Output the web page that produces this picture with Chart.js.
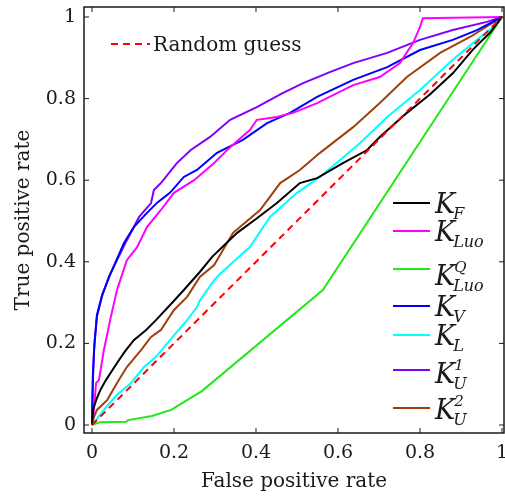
<!DOCTYPE html>
<html lang="en">
<head>
<meta charset="UTF-8">
<title>ROC curves</title>
<script src="https://cdn.jsdelivr.net/npm/chart.js"></script>
<style>
  html, body { margin: 0; padding: 0; background: #fff; }
</style>
</head>
<body>
<canvas id="roc" width="505" height="497"></canvas>
<script>
// ROC points [false positive rate, true positive rate]
var kF = [[0,0],[0.003,0.04],[0.012,0.066],[0.02,0.085],[0.034,0.11],[0.061,0.152],[0.08,0.18],[0.102,0.208],[0.132,0.233],[0.156,0.257],[0.195,0.299],[0.224,0.331],[0.263,0.375],[0.293,0.412],[0.354,0.471],[0.4,0.505],[0.451,0.544],[0.507,0.593],[0.549,0.605],[0.612,0.642],[0.671,0.674],[0.702,0.706],[0.768,0.765],[0.824,0.81],[0.88,0.862],[0.929,0.92],[0.971,0.962],[1,1]];
var kLuo = [[0,0],[0.005,0.04],[0.01,0.103],[0.017,0.11],[0.029,0.184],[0.046,0.265],[0.061,0.331],[0.085,0.404],[0.11,0.436],[0.134,0.485],[0.168,0.527],[0.2,0.569],[0.249,0.6],[0.298,0.642],[0.337,0.681],[0.385,0.723],[0.402,0.748],[0.451,0.755],[0.49,0.765],[0.549,0.789],[0.637,0.833],[0.702,0.853],[0.751,0.887],[0.783,0.936],[0.8,0.975],[0.807,0.997],[1,1]];
var kLuoQ = [[0,0],[0.005,0.002],[0.02,0.007],[0.083,0.008],[0.088,0.012],[0.146,0.022],[0.193,0.037],[0.268,0.083],[0.563,0.331],[1,1]];
var kV = [[0,0],[0.002,0.12],[0.006,0.2],[0.012,0.27],[0.025,0.32],[0.046,0.373],[0.078,0.446],[0.102,0.485],[0.134,0.52],[0.159,0.545],[0.19,0.569],[0.224,0.608],[0.256,0.625],[0.305,0.667],[0.368,0.699],[0.427,0.74],[0.483,0.765],[0.549,0.804],[0.637,0.846],[0.72,0.877],[0.8,0.919],[0.88,0.944],[0.939,0.968],[1,1]];
var kL = [[0,0],[0.01,0.012],[0.029,0.037],[0.061,0.074],[0.095,0.103],[0.127,0.142],[0.156,0.167],[0.176,0.191],[0.207,0.228],[0.232,0.257],[0.256,0.289],[0.263,0.305],[0.298,0.355],[0.312,0.37],[0.385,0.436],[0.434,0.51],[0.5,0.569],[0.556,0.608],[0.6,0.645],[0.654,0.691],[0.72,0.755],[0.8,0.821],[0.88,0.895],[0.929,0.936],[0.978,0.975],[1,1]];
var kU1 = [[0,0],[0.002,0.1],[0.005,0.184],[0.012,0.265],[0.024,0.314],[0.041,0.363],[0.061,0.404],[0.085,0.453],[0.115,0.51],[0.144,0.544],[0.151,0.576],[0.168,0.593],[0.207,0.642],[0.241,0.674],[0.288,0.706],[0.337,0.748],[0.402,0.779],[0.466,0.814],[0.515,0.838],[0.58,0.865],[0.637,0.887],[0.72,0.912],[0.8,0.944],[0.88,0.968],[0.963,0.988],[1,1]];
var kU2 = [[0,0],[0.005,0.02],[0.012,0.037],[0.037,0.061],[0.061,0.103],[0.085,0.142],[0.12,0.184],[0.144,0.216],[0.168,0.233],[0.2,0.282],[0.232,0.314],[0.263,0.363],[0.298,0.392],[0.344,0.471],[0.41,0.527],[0.459,0.593],[0.507,0.625],[0.556,0.667],[0.637,0.73],[0.702,0.789],[0.768,0.853],[0.849,0.912],[0.922,0.951],[1,1]];
var randomGuess = [[0,0],[1,1]];

var seriesData = [kF, kLuo, kLuoQ, kV, kL, kU1, kU2];
var seriesColors = ['#000000', '#ff00ff', '#22e81a', '#0000ff', '#00ffff', '#8000ff', '#a0400c'];
var legendSub = ['F', 'Luo', 'Luo', 'V', 'L', 'U', 'U'];
var legendSup = ['', '', 'Q', '', '', '1', '2'];

var tickVals = [0, 0.2, 0.4, 0.6, 0.8, 1];
var tickLabels = ['0', '0.2', '0.4', '0.6', '0.8', '1'];

var serif = '"DejaVu Serif", serif';

function toXY(arr) {
    return arr.map(function (p) { return { x: p[0], y: p[1] }; });
}

var datasets = [{
    label: 'Random guess',
    data: toXY(randomGuess),
    borderColor: '#ff0000',
    borderDash: [7, 5],
    borderWidth: 2
}];
seriesData.forEach(function (d, i) {
    datasets.push({
        label: 'K_' + legendSub[i] + (legendSup[i] ? '^' + legendSup[i] : ''),
        data: toXY(d),
        borderColor: seriesColors[i],
        borderWidth: 2
    });
});

// inward ticks, box frame and the two legends
var framePlugin = {
    id: 'frame',
    afterDraw: function (chart) {
        var ctx = chart.ctx, a = chart.chartArea;
        var xs = chart.scales.x, ys = chart.scales.y;
        ctx.save();
        ctx.strokeStyle = '#1a1a1a';
        ctx.lineWidth = 1.5;
        ctx.strokeRect(a.left, a.top, a.right - a.left, a.bottom - a.top);
        ctx.lineWidth = 1;
        ctx.beginPath();
        tickVals.forEach(function (v) {
            var px = xs.getPixelForValue(v), py = ys.getPixelForValue(v);
            ctx.moveTo(px, a.bottom); ctx.lineTo(px, a.bottom - 5);
            ctx.moveTo(px, a.top); ctx.lineTo(px, a.top + 5);
            ctx.moveTo(a.left, py); ctx.lineTo(a.left + 5, py);
            ctx.moveTo(a.right, py); ctx.lineTo(a.right - 5, py);
        });
        ctx.stroke();

        // random guess legend
        ctx.strokeStyle = '#ff0000';
        ctx.lineWidth = 2;
        ctx.setLineDash([7, 5]);
        ctx.beginPath();
        ctx.moveTo(111, 44); ctx.lineTo(150, 44);
        ctx.stroke();
        ctx.setLineDash([]);
        ctx.fillStyle = '#1a1a1a';
        ctx.font = '20px ' + serif;
        ctx.textBaseline = 'alphabetic';
        ctx.fillText('Random guess', 153, 51);

        // curve legend
        var rows = [203, 231, 269, 306, 335, 370, 408];
        var shift = [0, 0, 6, 0, 0, 3, 1];
        seriesColors.forEach(function (c, i) {
            var ly = rows[i];
            ctx.strokeStyle = c;
            ctx.lineWidth = 2;
            ctx.beginPath();
            ctx.moveTo(393, ly); ctx.lineTo(430, ly);
            ctx.stroke();
            var base = ly + 10 + shift[i];
            ctx.font = 'italic 27px ' + serif;
            ctx.fillText('K', 435, base);
            var w = ctx.measureText('K').width;
            ctx.font = 'italic 16px ' + serif;
            ctx.fillText(legendSub[i], 435 + w - 2, base + 6);
            if (legendSup[i]) {
                ctx.font = 'italic 15px ' + serif;
                ctx.fillText(legendSup[i], 435 + w - 1, base - 13);
            }
        });
        ctx.restore();
    }
};

new Chart(document.getElementById('roc'), {
    type: 'scatter',
    data: { datasets: datasets },
    options: {
        responsive: false,
        animation: false,
        showLine: true,
        layout: { padding: { top: 7, right: 1, left: 0, bottom: 0 } },
        elements: { point: { radius: 0 }, line: { tension: 0 } },
        plugins: { legend: { display: false }, tooltip: { enabled: false } },
        scales: {
            x: {
                type: 'linear',
                min: -0.0195,
                max: 1.0049,
                afterBuildTicks: function (s) { s.ticks = tickVals.map(function (v) { return { value: v }; }); },
                afterFit: function (s) {
                    s.height = 64;
                    s.paddingLeft = 0; s.paddingRight = 0;
                },
                grid: { display: false, drawTicks: false },
                border: { display: false },
                ticks: {
                    padding: 9,
                    maxRotation: 0,
                    color: '#1a1a1a',
                    font: { family: serif, size: 19 },
                    callback: function (v) { return tickLabels[tickVals.indexOf(v)]; }
                },
                title: {
                    display: true,
                    text: 'False positive rate',
                    color: '#1a1a1a',
                    font: { family: serif, size: 20 },
                    padding: { top: 0, bottom: 3 }
                }
            },
            y: {
                type: 'linear',
                min: -0.0196,
                max: 1.0245,
                afterBuildTicks: function (s) { s.ticks = tickVals.map(function (v) { return { value: v }; }); },
                afterFit: function (s) {
                    s.width = 84;
                    s.paddingTop = 0; s.paddingBottom = 0;
                },
                grid: { display: false, drawTicks: false },
                border: { display: false },
                ticks: {
                    padding: 8,
                    color: '#1a1a1a',
                    font: { family: serif, size: 19 },
                    callback: function (v) { return tickLabels[tickVals.indexOf(v)]; }
                },
                title: {
                    display: true,
                    text: 'True positive rate',
                    color: '#1a1a1a',
                    font: { family: serif, size: 20 },
                    padding: { top: 12, bottom: 0 }
                }
            }
        }
    },
    plugins: [framePlugin]
});
</script>
</body>
</html>
